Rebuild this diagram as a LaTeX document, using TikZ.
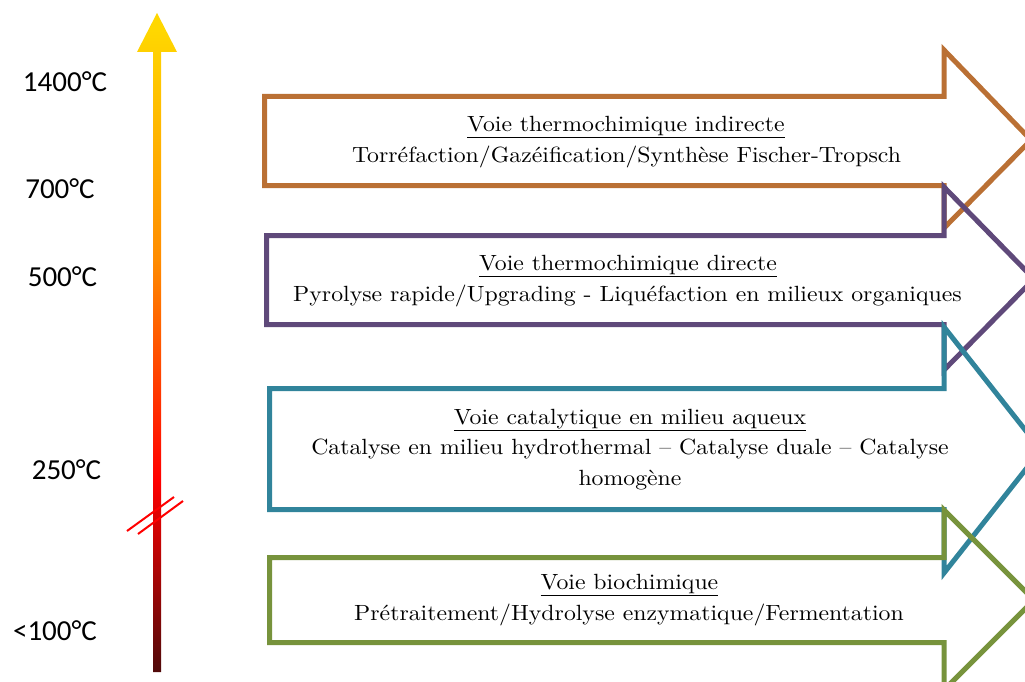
\documentclass[tikz,border=0pt]{standalone}
\usepackage{fontspec}
\newfontfamily\calib{Carlito}
\newfontfamily\garfont{lmroman10-regular.otf}[FakeStretch=1.08]
\definecolor{corange}{RGB}{186,112,52}
\definecolor{cpurple}{RGB}{95,73,122}
\definecolor{cteal}{RGB}{49,132,155}
\definecolor{cgreen}{RGB}{119,147,60}
\definecolor{gdark}{RGB}{80,10,10}
\definecolor{gred}{RGB}{255,0,0}
\definecolor{gorange}{RGB}{255,140,0}
\definecolor{gyellow}{RGB}{255,215,0}
\pgfdeclareverticalshading{tempgrad}{100bp}{color(0bp)=(gdark); color(25bp)=(gdark); color(39.6bp)=(gred); color(56.3bp)=(gorange); color(73.7bp)=(gyellow); color(100bp)=(gyellow)}
\tikzset{
  blockarrow/.style={line width=5pt, miter limit=10},
  ttext/.style={font=\garfont\fontsize{22}{30}\selectfont, align=center, inner sep=0pt},
  templab/.style={font=\calib\fontsize{29}{30}\selectfont, inner sep=0pt},
  brk/.style={draw=gred, line width=2pt}
}
\begin{document}
\begin{tikzpicture}[x=1pt,y=-1pt]
\useasboundingbox (0,0) rectangle (1025,682);
\clip (0,0) rectangle (1025,682);
% gradient arrow
\shade[shading=tempgrad] (153,672) -- (153,52) -- (137,52) -- (157,13) -- (177,52) -- (161,52) -- (161,672) -- cycle;
\coordinate (b1a) at (127,531); \coordinate (b1b) at (174,497);
\coordinate (b2a) at (138,534); \coordinate (b2b) at (183,501);
\draw[brk] (b1a) -- (b1b);
\draw[brk] (b2a) -- (b2b);
% temperature labels
\node[templab] (t1400) at (65,82) {1400°C};
\node[templab] (t700) at (60,189) {700°C};
\node[templab] (t500) at (62.5,277) {500°C};
\node[templab] (t250) at (66.5,470) {250°C};
\node[templab] (t100) at (55,631) {<100°C};
% block arrows
\draw[blockarrow, draw=corange] (264.5,96.5) -- (944,96.5) -- (944,50) -- (1031,140) -- (944,228) -- (944,185.5) -- (264.5,185.5) -- cycle;
\draw[blockarrow, draw=cpurple] (266.5,235.5) -- (944,235.5) -- (944,187) -- (1034,279) -- (944,370) -- (944,324.5) -- (266.5,324.5) -- cycle;
\draw[blockarrow, draw=cteal] (269.5,388.5) -- (944,388.5) -- (944,327) -- (1041,450) -- (944,573) -- (944,509.5) -- (269.5,509.5) -- cycle;
\draw[blockarrow, draw=cgreen] (269.5,557.5) -- (944,557.5) -- (944,510) -- (1034,600) -- (944,690) -- (944,642.5) -- (269.5,642.5) -- cycle;
% texts
\node[ttext] (o1) at (626,127) {\underline{Voie thermochimique indirecte}};
\node[ttext] (o2) at (626.5,157) {Torréfaction/Gazéification/Synthèse Fischer-Tropsch};
\node[ttext] (p1) at (628,266) {\underline{Voie thermochimique directe}};
\node[ttext] (p2) at (627.5,296) {Pyrolyse rapide/Upgrading - Liquéfaction en milieux organiques};
\node[ttext] (c1) at (630,420) {\underline{Voie catalytique en milieu aqueux}};
\node[ttext] (c2) at (630,449) {Catalyse en milieu hydrothermal – Catalyse duale – Catalyse};
\node[ttext] (c3) at (630,480) {homogène};
\node[ttext] (g1) at (629.5,585) {\underline{Voie biochimique}};
\node[ttext] (g2) at (629,615) {Prétraitement/Hydrolyse enzymatique/Fermentation};
\end{tikzpicture}
\end{document}
